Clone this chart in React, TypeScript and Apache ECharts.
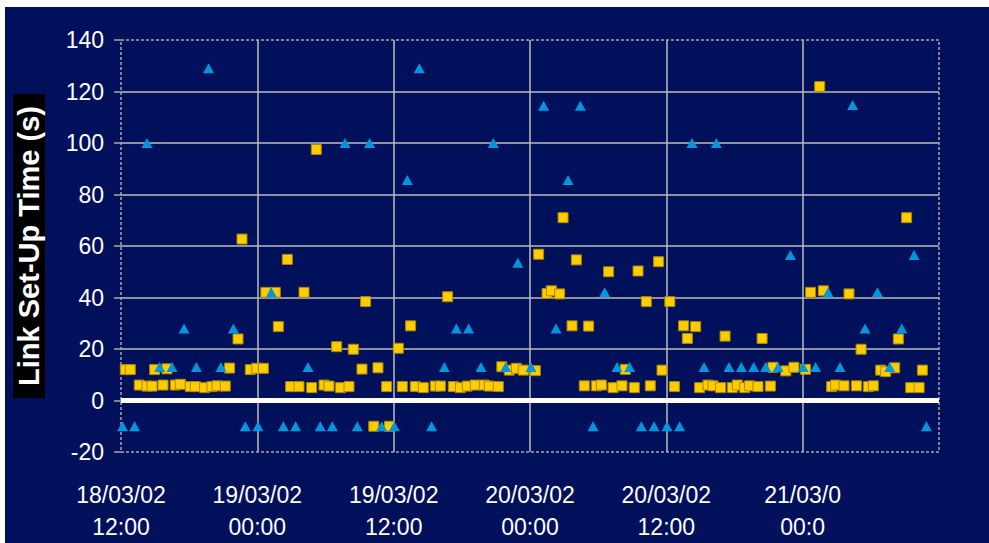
import React, { useEffect, useRef } from "react";
import * as echarts from "echarts";

// Hours after 18/03/02 12:00 and link set-up time (s)
const squareHours = [0.38, 0.82, 1.61, 2.29, 2.73, 2.96, 3.7, 4.05, 4.78, 5.22, 6.1, 6.54, 7.36, 8.01, 8.45, 9.18, 9.56, 10.3, 10.65, 11.38, 11.95, 12.53, 12.75, 13.58, 13.85, 14.64, 14.93, 15.67, 16.11, 16.78, 17.19, 17.87, 18.31, 18.98, 19.33, 20.07, 20.45, 21.21, 21.53, 22.25, 22.62, 23.38, 23.62, 24.41, 24.76, 25.49, 25.91, 26.61, 27.67, 28.11, 28.75, 29.25, 29.87, 30.48, 31.19, 31.98, 32.42, 33.21, 33.52, 34.18, 34.8, 35.41, 36.47, 36.76, 37.5, 37.88, 38.61, 38.91, 39.7, 40.08, 40.78, 41.16, 41.84, 42.28, 42.92, 43.31, 44.1, 44.39, 45.18, 45.51, 46.24, 46.59, 47.32, 47.62, 48.31, 48.71, 49.52, 49.85, 50.58, 50.93, 51.67, 52.11, 52.78, 53.17, 53.81, 54.25, 54.9, 55.33, 56.07, 56.43, 57.16, 57.38, 58.52, 59.23, 60.24, 60.7, 61.5, 61.82, 62.55, 62.9, 63.64, 64.08, 64.73, 65.14, 65.78, 66.22, 66.87, 67.31, 68.1, 68.42, 69.15, 69.51, 70.25, 70.54];
const squareValues = [12, 12, 6, 5.6, 5.6, 12, 6, 12.3, 6, 6.3, 5.4, 5.4, 5, 5.4, 5.7, 5.6, 12.6, 23.9, 62.7, 12, 12.5, 12.5, 42, 42, 28.7, 54.8, 5.4, 5.4, 42, 5, 97.5, 6, 5.6, 20.9, 5, 5.4, 19.9, 12.2, 38.4, -10, 12.7, 5.4, -10, 20.3, 5.4, 29, 5.4, 5, 5.6, 5.6, 40.3, 5.4, 5, 5.6, 6, 6, 5.6, 5.4, 13.1, 11.8, 12.5, 11.8, 11.6, 56.8, 41.6, 42.6, 41.4, 71, 29, 54.6, 5.7, 28.9, 5.7, 6, 50, 5, 5.7, 12.1, 5, 50.3, 38.4, 5.7, 53.9, 11.8, 38.4, 5.4, 29, 24.1, 28.7, 5, 6, 5.7, 5, 25, 5, 6, 5, 5.7, 5.4, 24.1, 5.6, 12.9, 11.5, 12.9, 12.1, 42, 121.9, 42.6, 5.4, 6, 5.7, 41.4, 5.7, 19.9, 5.4, 5.7, 11.8, 11.2, 12.7, 23.9, 71, 5, 5, 11.8];

const triangleHours = [0.14, 1.2, 2.29, 3.4, 4.49, 5.55, 6.63, 7.71, 8.8, 9.89, 10.94, 12.06, 13.23, 14.29, 15.37, 16.46, 17.54, 18.6, 19.72, 20.8, 21.88, 22.94, 24.06, 25.2, 26.26, 27.34, 28.46, 29.52, 30.6, 31.69, 32.77, 33.86, 34.93, 36.09, 37.2, 38.29, 39.35, 40.43, 41.55, 42.57, 43.66, 44.77, 45.8, 46.92, 48.06, 49.17, 50.26, 51.32, 52.4, 53.52, 54.6, 55.69, 56.74, 57.83, 58.92, 60.04, 61.14, 62.24, 63.29, 64.4, 65.49, 66.58, 67.66, 68.72, 69.81, 70.89];
const triangleValues = [-10, -10, 100, 13, 13, 28, 13, 129, 13, 28, -10, -10, 42, -10, -10, 13, -10, -10, 100, -10, 100, -10, -10, 85.6, 129, -10, 13, 28, 28, 13, 100, 13, 53.5, 13, 114.5, 28, 85.6, 114.5, -10, 42, 13, 13, -10, -10, -10, -10, 100, 13, 100, 13, 13, 13, 13, 13, 56.5, 13, 13, 42, 13, 114.8, 28, 42, 13, 28, 56.5, -10];

const xTickLabels = ["18/03/02\n12:00", "19/03/02\n00:00", "19/03/02\n12:00", "20/03/02\n00:00", "20/03/02\n12:00", "21/03/0\n00:0", ""];
const yTitle = "Link Set-Up Time (s)";

const FONT = "'Liberation Sans', Arial, sans-serif";

export default function App() {
  const ref = useRef<HTMLDivElement>(null);
  useEffect(() => {
    if (!ref.current) return;
    const chart = echarts.init(ref.current, null, { renderer: "svg" });
    const gridL = 116, gridT = 33, gridW = 818, gridH = 412;
    chart.setOption({
      animation: false,
      backgroundColor: "#01105b",
      grid: { left: gridL, top: gridT, width: gridW, height: gridH, outerBoundsMode: "none", containLabel: false },
      graphic: [
        {
          type: "rect",
          z: 1,
          shape: { x: gridL, y: gridT, width: gridW, height: gridH },
          style: { fill: "none", stroke: "#a8a8a8", lineWidth: 1.5, lineDash: [3, 2] },
        },
      ],
      xAxis: {
        type: "value",
        min: 0,
        max: 72,
        interval: 12,
        axisLine: { show: false, onZero: false },
        axisTick: { show: false },
        axisLabel: {
          color: "#ffffff",
          fontSize: 23,
          fontFamily: FONT,
          lineHeight: 32,
          margin: 27,
          formatter: (v: number) => xTickLabels[Math.round(v / 12)] ?? "",
        },
        splitLine: {
          show: true,
          showMinLine: false,
          showMaxLine: false,
          lineStyle: { color: "#bdbdbd", width: 1.5, type: "solid" },
        },
      },
      yAxis: {
        type: "value",
        min: -20,
        max: 140,
        interval: 20,
        name: yTitle,
        nameLocation: "middle",
        nameRotate: 90,
        nameGap: 76,
        nameTextStyle: {
          color: "#ffffff",
          fontWeight: "bold",
          fontSize: 29,
          fontFamily: FONT,
          backgroundColor: "#000000",
          lineHeight: 32,
          padding: [0, 12, 0, 12],
        },
        axisLine: { show: false },
        axisTick: { show: true, length: 7, lineStyle: { color: "#a8a8a8", width: 1.5 } },
        axisLabel: { color: "#ffffff", fontSize: 23, fontFamily: FONT, margin: 17 },
        splitLine: {
          show: true,
          showMinLine: false,
          showMaxLine: false,
          lineStyle: { color: "#bdbdbd", width: 1.5, type: "solid" },
        },
      },
      series: [
        {
          type: "scatter",
          name: "squares",
          symbol: "rect",
          symbolSize: 10,
          z: 3,
          itemStyle: { color: "#ffcc00", borderColor: "#a88a00", borderWidth: 1, opacity: 1 },
          data: squareHours.map((h, i) => [h, squareValues[i]]),
          markLine: {
            silent: true,
            symbol: ["none", "none"],
            label: { show: false },
            lineStyle: { color: "#ffffff", width: 5, type: "solid" },
            data: [{ yAxis: 0 }],
            z: 2,
          },
        },
        {
          type: "scatter",
          name: "triangles",
          symbol: "triangle",
          symbolSize: [11, 10],
          z: 4,
          itemStyle: { color: "#0096de", opacity: 1 },
          data: triangleHours.map((h, i) => [h, triangleValues[i]]),
        },
      ],
    });
    return () => chart.dispose();
  }, []);
  return (
    <div
      ref={ref}
      style={{ position: "fixed", left: 5, top: 7, width: 984, height: 536 }}
    />
  );
}
